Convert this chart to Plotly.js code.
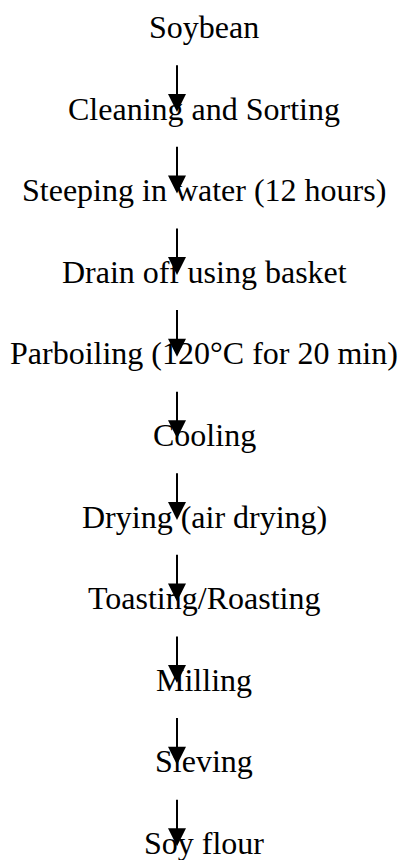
<!DOCTYPE html>
<html>
<head>
<meta charset="utf-8">
<script src="https://cdn.plot.ly/plotly-3.0.1.min.js"></script>
<style>html,body{margin:0;padding:0;background:#fff;}#chart{width:401px;height:860px;}</style>
</head>
<body>
<div id="chart"></div>
<script>
var steps = [
  "Soybean",
  "Cleaning and Sorting",
  "Steeping in water (12 hours)",
  "Drain off using basket",
  "Parboiling (120°C for 20 min)",
  "Cooling",
  "Drying (air drying)",
  "Toasting/Roasting",
  "Milling",
  "Sieving",
  "Soy flour"
];
var stepOrder = [0,1,2,3,4,5,6,7,8,9,10];

var TEXT_X = 204;
var ARROW_X = 177;
var ARROW_START = 0.45;
var ARROW_END = 1.04;

var annotations = [];
stepOrder.forEach(function(i){
  annotations.push({
    x: TEXT_X, y: i, xref: 'x', yref: 'y',
    text: steps[i], showarrow: false,
    xanchor: 'center', yanchor: 'middle',
    font: {family: 'Liberation Serif, Times New Roman, serif', size: 32, color: '#000'}
  });
});
for (var k = 0; k < stepOrder.length - 1; k++) {
  annotations.push({
    x: ARROW_X, y: stepOrder[k] + ARROW_END, xref: 'x', yref: 'y',
    ax: ARROW_X, ay: stepOrder[k] + ARROW_START, axref: 'x', ayref: 'y',
    text: '', showarrow: true,
    arrowhead: 2, arrowsize: 1.8, arrowwidth: 2, arrowcolor: '#000', standoff: 0, startstandoff: 0
  });
}

var layout = {
  width: 401, height: 860,
  margin: {l: 0, r: 0, t: 0, b: 0},
  paper_bgcolor: '#fff', plot_bgcolor: '#fff',
  showlegend: false,
  xaxis: {range: [0, 401], visible: false, fixedrange: true},
  yaxis: {range: [10.208, -0.331], visible: false, fixedrange: true},
  annotations: annotations
};
Plotly.newPlot('chart', [{x: [], y: [], type: 'scatter', hoverinfo: 'skip'}], layout, {displayModeBar: false, staticPlot: true});
</script>
</body>
</html>
